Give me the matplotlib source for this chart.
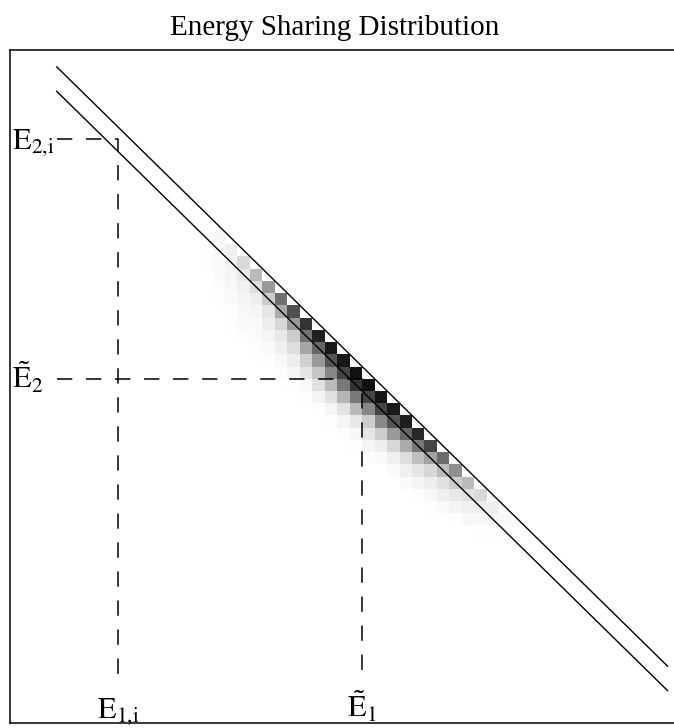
import numpy as np
import matplotlib
matplotlib.use("Agg")
import matplotlib.pyplot as plt
from matplotlib.colors import LinearSegmentedColormap

plt.rcParams["font.family"] = ["Liberation Serif", "DejaVu Serif"]
plt.rcParams["mathtext.fontset"] = "stix"

# histogram: bin units, cell (i, j) with i + j = top_diag - depth
top_diag = 55
first_col = 15
# one row per column i (starting at first_col), values by depth below the top diagonal
band = [
    [1, 1, 1, 1],
    [3, 3, 2, 2, 1, 1],
    [7, 5, 4, 3, 2, 1, 1],
    [15, 9, 6, 4, 3, 2, 1],
    [27, 13, 7, 4, 2, 2, 1],
    [40, 20, 10, 7, 4, 2, 1],
    [56, 33, 16, 9, 6, 3, 1],
    [69, 40, 20, 13, 7, 3, 1],
    [80, 55, 35, 18, 10, 3, 1],
    [87, 60, 40, 23, 12, 4, 1],
    [90, 67, 47, 27, 12, 4, 1],
    [91, 73, 53, 29, 11, 4, 1],
    [93, 80, 52, 27, 9, 3, 1],
    [93, 73, 47, 20, 10, 4, 1],
    [92, 73, 46, 20, 7, 2],
    [90, 67, 40, 16, 6, 2],
    [88, 60, 33, 13, 6, 2],
    [84, 53, 25, 10, 4, 1],
    [73, 37, 16, 7, 3, 1],
    [58, 27, 12, 6, 2],
    [44, 20, 9, 4, 1],
    [27, 12, 6, 3],
    [15, 7, 3, 1],
    [7, 4, 1],
    [3, 1],
]
n_xbins, n_ybins = 54, 56

# kinematic lines E1 + E2 = const
sum_hi, sum_lo = 57.0, 55.0
line_x = [3.5, 52.5]

# marked energies
e1_init, e2_init = 8.4, 47.6
e1_tilde, e2_tilde = 28.0, 28.0
dash_start = 3.5

fig = plt.figure(figsize=(6.74, 7.28), dpi=100)
ax = fig.add_axes([10 / 674, 5 / 728, 665 / 674, 673 / 728])

z = np.zeros((n_ybins, n_xbins))
for n, col in enumerate(band):
    i = first_col + n
    for d, v in enumerate(col):
        z[top_diag - i - d, i] = v
zm = np.ma.masked_equal(z, 0)

grey = LinearSegmentedColormap.from_list("grey", ["white", "black"])
ax.pcolormesh(np.arange(n_xbins + 1), np.arange(n_ybins + 1), zm, cmap=grey,
              vmin=0, vmax=100, zorder=2, antialiased=False, edgecolors="none")

xs = np.array(line_x)
ax.plot(xs, sum_hi - xs, color="black", lw=1.0, zorder=3)
ax.plot(xs, sum_lo - xs, color="black", lw=1.0, zorder=3)

# dashed guides drawn over the histogram
dash = (0, (10, 9))
ax.plot([dash_start, e1_init, e1_init], [e2_init, e2_init, dash_start],
        color="black", lw=1.1, ls=dash, zorder=4)
ax.plot([dash_start, e1_tilde, e1_tilde], [e2_tilde, e2_tilde, dash_start],
        color="black", lw=1.1, ls=dash, zorder=4)

fs = 22
ax.text(-0.1, e2_init - 0.82, r"$\mathrm{E}_{\mathrm{2{,}i}}$", fontsize=fs,
        ha="left", va="baseline")
ax.text(-0.1, e2_tilde - 0.82, r"$\tilde{\mathrm{E}}_{\mathrm{2}}$", fontsize=fs,
        ha="left", va="baseline")
ax.text(e1_init, 0.3, r"$\mathrm{E}_{\mathrm{1{,}i}}$", fontsize=fs,
        ha="center", va="baseline")
ax.text(e1_tilde, 0.3, r"$\tilde{\mathrm{E}}_{\mathrm{1}}$", fontsize=fs,
        ha="center", va="baseline")

ax.set_xlim(-0.25, 53.1)
ax.set_ylim(-0.15, 54.88)
ax.set_xticks([])
ax.set_yticks([])
for s in ax.spines.values():
    s.set_linewidth(1.1)

fig.text(0.497, (728 - 35) / 728, "Energy Sharing Distribution", fontsize=21,
         ha="center", va="baseline")

fig.savefig("out.png", dpi=100)
